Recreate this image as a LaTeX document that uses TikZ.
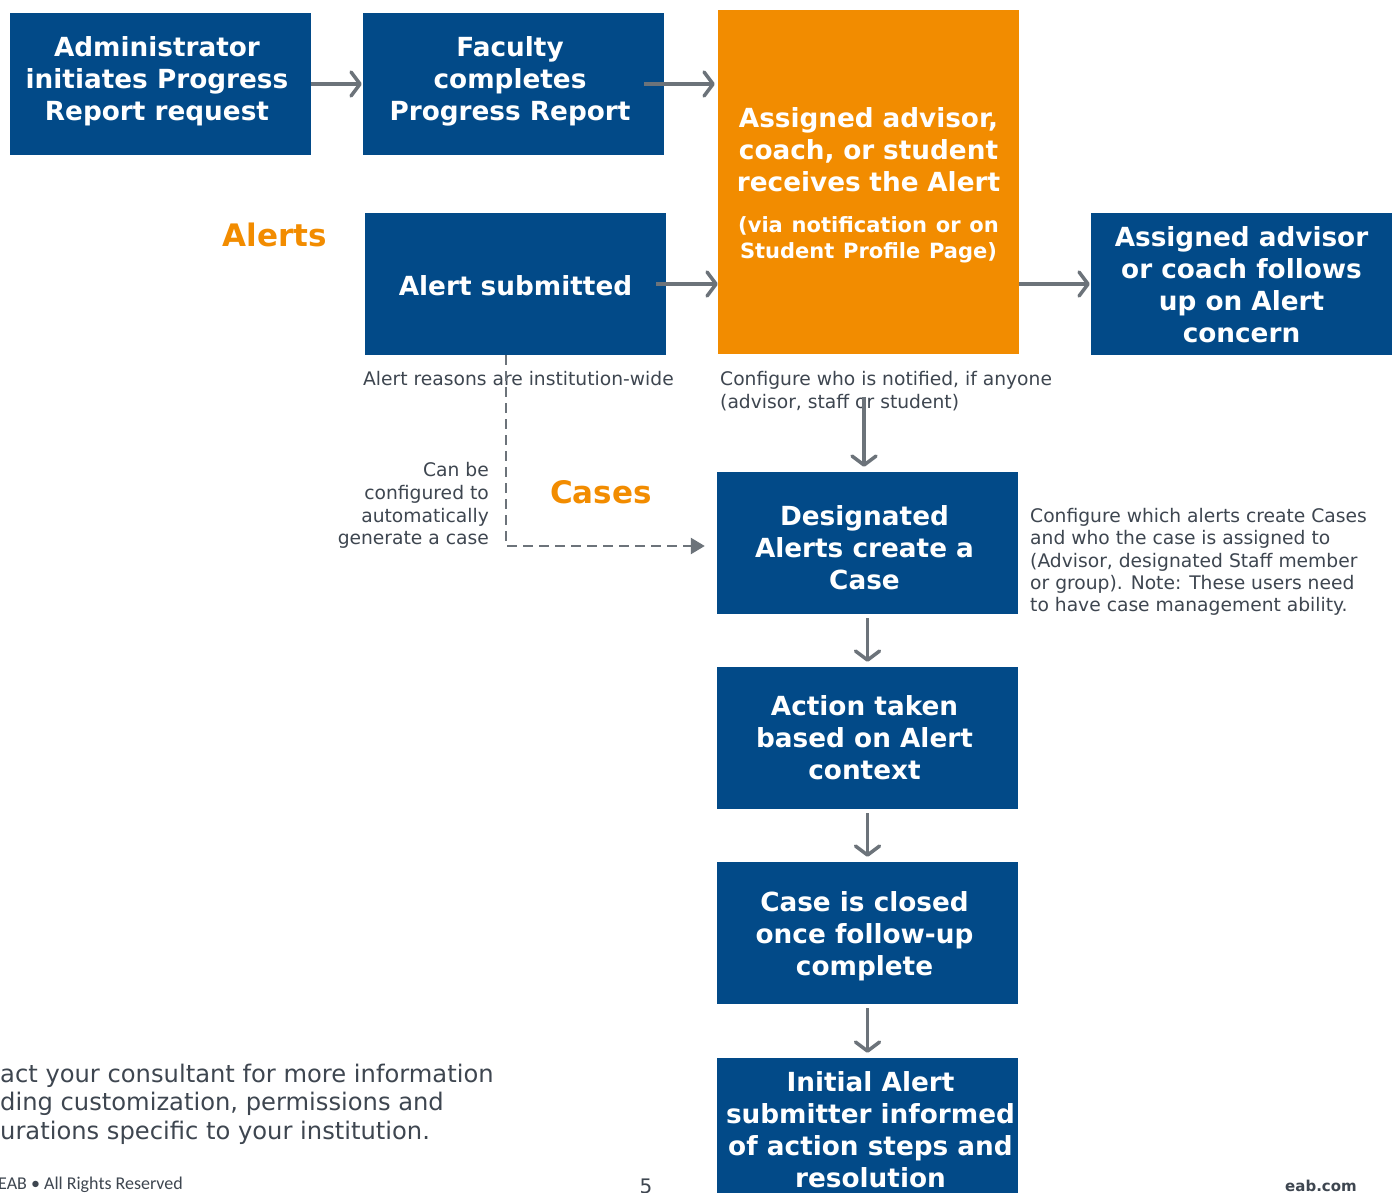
\documentclass[tikz,border=0pt]{standalone}
\usepackage{fontspec}
\setmainfont{DejaVu Sans}
\newfontfamily\footfont{Carlito}
\usetikzlibrary{arrows.meta}
\definecolor{eabblue}{RGB}{2,74,136}
\definecolor{eaborange}{RGB}{242,140,0}
\definecolor{arrowgray}{RGB}{108,115,122}
\definecolor{textgray}{RGB}{62,70,80}
\begin{document}
\begin{tikzpicture}[x=1pt,y=-1pt,
  box/.style={fill=eabblue,inner sep=0pt,minimum width=301pt,minimum height=142pt},
  boxtxt/.style={text=white,inner sep=0pt,align=center,font=\bfseries\fontsize{26.3}{32}\selectfont},
  flow/.style={draw=arrowgray,line width=3.5pt,-{Straight Barb[length=9pt,width=24pt,round]}},
  dashflow/.style={draw=arrowgray,line width=2.5pt,dash pattern=on 10pt off 6pt,-{Triangle[length=14pt,width=16pt]}},
  note/.style={text=textgray,inner sep=0pt,font=\fontsize{18.7}{23}\selectfont},
  head/.style={text=eaborange,inner sep=0pt,font=\bfseries\fontsize{31}{37}\selectfont},
  foot/.style={text=textgray,inner sep=0pt}
]
\clip (0,0) rectangle (1397,1192);
\fill[white] (0,0) rectangle (1397,1192);

% boxes
\node[box] (admin) at (160.5,84) {};
\node[boxtxt] (admin-t) at (157,81) {Administrator\\initiates Progress\\Report request};
\node[box] (fac) at (513.5,84) {};
\node[boxtxt] (fac-t) at (510,81) {Faculty\\completes\\Progress Report};
\node[box,fill=eaborange,minimum height=344pt] (recv) at (868.5,182) {};
\node[boxtxt,text width=301pt] (recv-t) at (868.5,185)
  {Assigned advisor,\\coach, or student\\receives the Alert\par\vspace{15pt}\fontsize{21}{26}\selectfont (via notification or on\\Student Profile Page)\par};
\node[box] (sub) at (515.5,284) {};
\node[boxtxt] (sub-t) at (515.5,286) {Alert submitted};
\node[box] (follow) at (1241.5,284) {};
\node[boxtxt] (follow-t) at (1241.5,285) {Assigned advisor\\or coach follows\\up on Alert\\concern};
\node[box] (design) at (867.5,543) {};
\node[boxtxt] (design-t) at (864.5,548) {Designated\\Alerts create a\\Case};
\node[box] (action) at (867.5,738) {};
\node[boxtxt] (action-t) at (864.5,738) {Action taken\\based on Alert\\context};
\node[box] (closed) at (867.5,933) {};
\node[boxtxt] (closed-t) at (864.5,936) {Case is closed\\once follow-up\\complete};
\node[box] (init) at (867.5,1129) {};
\node[boxtxt] (init-t) at (870.5,1130) {Initial Alert\\submitter informed\\of action steps and\\resolution};

% headings
\node[head] (alerts) at (274.5,235) {Alerts};
\node[head] (cases) at (601,492) {Cases};

% notes
\node[note,anchor=west] (reasons) at (363,379) {Alert reasons are institution-wide};
\node[note,anchor=west,align=left] (notif) at (720,391.5) {Configure who is notified, if anyone\\(advisor, staff or student)};
\node[note,anchor=east,align=right,font=\fontsize{18.7}{22.7}\selectfont] (canbe) at (489,505.5) {Can be\\configured to\\automatically\\generate a case};
\node[note,anchor=west,align=left,font=\fontsize{18.7}{22.3}\selectfont] (which) at (1030,562) {Configure which alerts create Cases\\and who the case is assigned to\\(Advisor, designated Staff member\\or group). Note: These users need\\to have case management ability.};

% arrows
\draw[flow,shorten >=1pt] (admin.east) -- (fac.west);
\draw[flow,shorten >=3pt] ([xshift=-20pt]fac.east) -- (fac.east -| recv.west);
\draw[flow] ([xshift=-10pt]sub.east) -- (sub.east -| recv.west);
\draw[flow,shorten >=1pt] (recv.east |- follow.west) -- (follow.west);
\coordinate (nstart) at (864,397);
\draw[flow,shorten >=5pt] (nstart) -- (nstart |- design.north);
\draw[flow,shorten <=4pt,shorten >=5pt] (design.south) -- (action.north);
\draw[flow,shorten <=4pt,shorten >=5pt] (action.south) -- (closed.north);
\draw[flow,shorten <=4pt,shorten >=5pt] (closed.south) -- (init.north);
\coordinate (dcorner) at (506,546);
\draw[dashflow,shorten >=12pt] (sub.south -| dcorner) -- (dcorner) -- (dcorner -| design.west);

% bottom text
\node[foot,anchor=west,align=left,font=\fontsize{24.2}{28.5}\selectfont] (contact) at (0,1104)
  {act your consultant for more information\\ding customization, permissions and\\urations specific to your institution.};
\node[foot,anchor=west,font=\footfont\fontsize{18}{20}\selectfont] (rights) at (-2,1185) {EAB • All Rights Reserved};
\node[foot,font=\fontsize{20}{24}\selectfont] (page) at (646,1186) {5};
\node[foot,font=\bfseries\fontsize{15}{18}\selectfont] (web) at (1321,1186) {eab.com};
\end{tikzpicture}
\end{document}
